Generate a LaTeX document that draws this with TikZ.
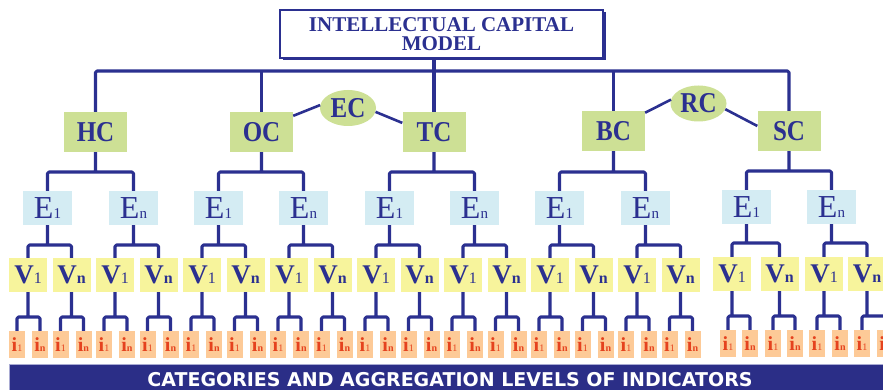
\documentclass[tikz,border=0pt]{standalone}
\usepackage{graphicx}
\usepackage{fontspec}
\setmainfont{Liberation Serif}
\newfontfamily\bannerfont{DejaVu Sans}
\usetikzlibrary{shapes.geometric,shadows}
\definecolor{navy}{HTML}{2B3090}
\definecolor{capgreen}{HTML}{CDE095}
\definecolor{eblue}{HTML}{D4ECF3}
\definecolor{vyellow}{HTML}{F7F49C}
\definecolor{ipeach}{HTML}{FDCA97}
\definecolor{ired}{HTML}{E5421E}
\definecolor{bannerblue}{HTML}{2B2E87}
\definecolor{bannerrim}{HTML}{A9ABD3}
\newcommand\eidx[1]{{\fontsize{15}{15}\selectfont #1}}
\newcommand\vidx[1]{{\fontsize{16}{16}\selectfont #1}}
\newcommand\iidx[1]{{\fontsize{10}{10}\selectfont #1}}
\newcommand\tall[1]{\scalebox{1}[1.15]{#1}}
\tikzset{
 conn/.style={draw=navy, line width=3.1pt, line join=round, rounded corners=1.5pt},
 topbox/.style={draw=navy, line width=1.5pt, fill=white, minimum width=323pt, minimum height=48pt,
   align=center, text=navy, font=\fontsize{21}{19}\selectfont\bfseries, inner sep=0pt,
   drop shadow={shadow xshift=2.5pt, shadow yshift=-2.5pt, fill=navy, opacity=1}},
 capbox/.style={fill=capgreen, minimum width=63pt, minimum height=40pt, inner sep=0pt, text=navy,
   font=\fontsize{25}{25}\selectfont\bfseries},
 capell/.style={ellipse, fill=capgreen, minimum width=56pt, minimum height=36pt, inner sep=0pt, text=navy,
   font=\fontsize{25}{25}\selectfont\bfseries},
 ebox/.style={fill=eblue, minimum width=49pt, minimum height=34pt, inner sep=0pt, text=navy,
   font=\fontsize{32}{32}\selectfont},
 vbox/.style={fill=vyellow, minimum width=38pt, minimum height=34pt, inner sep=0pt, text=navy,
   font=\fontsize{27}{27}\selectfont\bfseries},
 ibox/.style={fill=ipeach, minimum width=16pt, minimum height=27pt, inner sep=0pt, text=ired,
   font=\fontsize{20}{20}\selectfont\bfseries},
}
\begin{document}
\begin{tikzpicture}[x=1pt,y=-1pt]
\clip (0,0) rectangle (883,390);
\fill[white] (0,0) rectangle (883,390);

% top box
\node[topbox] (top) at (441.5,34) {INTELLECTUAL CAPITAL\\MODEL};

% level 1
\node[capbox] (HC) at (95.5,132) {\tall{HC}};
\node[capbox] (OC) at (261.5,132) {\tall{OC}};
\node[capbox] (TC) at (434,132) {\tall{TC}};
\node[capbox] (BC) at (613.5,131) {\tall{BC}};
\node[capbox] (SC) at (789,131) {\tall{SC}};
\node[capell] (EC) at (348,108) {\tall{EC}};
\node[capell] (RC) at (698.5,103.5) {\tall{RC}};

\draw[conn] (top.south -| TC.north) -- (TC.north);
\draw[conn] (HC.north) -- (HC.north |- 0,71) -- (SC.north |- 0,71) -- (SC.north);
\draw[conn] (OC.north) -- (OC.north |- 0,71);
\draw[conn] (BC.north) -- (BC.north |- 0,71);
\draw[conn, line width=2.6pt] (OC.27) -- (EC.174);
\draw[conn, line width=2.6pt] (EC.352) -- (TC.164);
\draw[conn, line width=2.6pt] (BC.30) -- (RC.172);
\draw[conn, line width=2.6pt] (RC.348) -- (SC.171);

% level 2 (E)
\foreach \x [count=\k] in {47.5,133.5,218.5,303.5,389.5,474.5,559.5,645.5}
  \node[ebox] (E\k) at (\x,208) {E\ifodd\k\eidx{1}\else\eidx{n}\fi};
\node[ebox] (E9) at (746.5,207) {E\eidx{1}};
\node[ebox] (E10) at (831.5,207) {E\eidx{n}};

\foreach \p/\a/\b/\bar in {HC/1/2/172, OC/3/4/172, TC/5/6/172, BC/7/8/172, SC/9/10/171}
  \draw[conn] (E\a.north) |- (\p.south |- 0,\bar) -| (E\b.north)
              (\p.south) -- (\p.south |- 0,\bar);

% level 3 (V)
\foreach \k in {1,...,16}
  \node[vbox] (V\k) at ({28+43.5*(\k-1)},275) {V\ifodd\k\vidx{\mdseries 1}\else\vidx{n}\fi};
\foreach \x/\k in {732/17,779.5/18,824/19,867/20}
  \node[vbox] (V\k) at (\x,274) {V\ifodd\k\vidx{\mdseries 1}\else\vidx{n}\fi};

\foreach \e in {1,...,8}{
  \pgfmathtruncatemacro\va{2*\e-1}
  \pgfmathtruncatemacro\vb{2*\e}
  \draw[conn] (V\va.north) |- (E\e.south |- 0,245) -| (V\vb.north)
              (E\e.south) -- (E\e.south |- 0,245);
}
\foreach \e/\va/\vb in {9/17/18, 10/19/20}
  \draw[conn] (V\va.north) |- (E\e.south |- 0,243) -| (V\vb.north)
              (E\e.south) -- (E\e.south |- 0,243);

% level 4 (i)
\foreach \k in {1,...,16}{
  \node[ibox] (ia\k) at ({28+43.5*(\k-1)-11},344.5) {i\iidx{\mdseries 1}};
  \node[ibox] (ib\k) at ({28+43.5*(\k-1)+12},344.5) {i\iidx{n}};
  \draw[conn] (ia\k.north) |- (V\k.south |- 0,317) -| (ib\k.north)
              (V\k.south) -- (V\k.south |- 0,317);
}
\foreach \xa/\xb/\k in {728/750/17, 773/795/18, 817/840/19, 862/885/20}{
  \node[ibox] (ia\k) at (\xa,343.5) {i\iidx{\mdseries 1}};
  \node[ibox] (ib\k) at (\xb,343.5) {i\iidx{n}};
  \draw[conn] (ia\k.north) |- (V\k.south |- 0,316) -| (ib\k.north)
              (V\k.south) -- (V\k.south |- 0,316);
}

% banner
\node[fill=bannerblue, draw=bannerrim, line width=1pt, minimum width=884pt, minimum height=27pt,
      inner sep=0pt, anchor=north west] (banner) at (9,364) {};
\node[text=white, font=\bannerfont\bfseries\fontsize{19}{19}\selectfont, inner sep=0pt] (bt) at (450,380)
  {CATEGORIES AND AGGREGATION LEVELS OF INDICATORS};
\end{tikzpicture}
\end{document}
